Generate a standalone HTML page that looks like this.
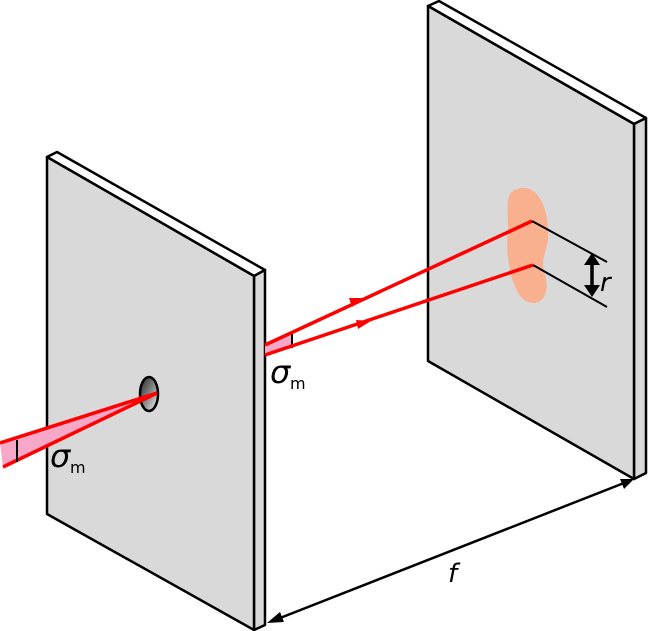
<!DOCTYPE html>
<html><head><meta charset="utf-8"><style>body{margin:0;background:#fff}svg{display:block}</style></head><body>
<svg width="648" height="631" viewBox="0 0 648 631" xmlns="http://www.w3.org/2000/svg">
<defs>
<linearGradient id="h" x1="0" y1="0" x2="1" y2="1"><stop offset="0" stop-color="#222"/><stop offset="0.6" stop-color="#999"/><stop offset="1" stop-color="#fff"/></linearGradient>
</defs>
<g stroke="#000" stroke-width="2.5" stroke-linejoin="round">
<polygon points="47,157 57,152 265,270 254,276" fill="#fff"/>
<polygon points="254,276 265,270 265,625 254,630" fill="#d8d8d8"/>
<polygon points="47,157 254,276 254,630 47,514" fill="#d9d9d9"/>
<polygon points="428,6 439,1 646,118 634,124" fill="#fff"/>
<polygon points="634,124 646,118 646,473 634,479" fill="#d8d8d8"/>
<polygon points="428,6 634,124 634,479 428,361" fill="#d9d9d9"/>
</g>
<ellipse cx="149" cy="394" rx="9" ry="17" fill="url(#h)" stroke="#000" stroke-width="2.5"/>
<path d="M515,190 C535,180 550,205 548,240 C546,255 540,258 545,275 C552,300 535,310 522,298 C510,285 505,250 508,230 C508,205 505,195 515,190Z" fill="#f9b08f"/>
<polygon points="0,443 157,393 3,467" fill="#f7a8c8"/>
<line x1="0" y1="443" x2="157" y2="393" stroke="#f00" stroke-width="3.5"/>
<line x1="3" y1="467" x2="157" y2="393" stroke="#f00" stroke-width="3.5"/>
<line x1="17" y1="440" x2="17" y2="462" stroke="#000" stroke-width="2"/>
<polygon points="265,345 292,333 292,348 265,355" fill="#f7a8c8"/>
<line x1="292" y1="333" x2="292" y2="348" stroke="#000" stroke-width="2"/>
<line x1="265" y1="345" x2="532" y2="221" stroke="#f00" stroke-width="3.5"/>
<line x1="265" y1="355" x2="533" y2="265" stroke="#f00" stroke-width="3.5"/>
<polygon points="364,298 349,298 352,307" fill="#f00"/>
<polygon points="371,321 356,320 358,329" fill="#f00"/>
<line x1="532" y1="221" x2="607" y2="262" stroke="#000" stroke-width="2"/>
<line x1="533" y1="265" x2="607" y2="307" stroke="#000" stroke-width="2"/>
<line x1="592" y1="262" x2="592" y2="288" stroke="#000" stroke-width="3.5"/>
<polygon points="592,253 584,265 600,265" fill="#000"/>
<polygon points="592,297 584,285 600,285" fill="#000"/>
<line x1="275" y1="620" x2="624" y2="483" stroke="#000" stroke-width="2.5"/>
<polygon points="267,623 280,612 284,622" fill="#000"/>
<polygon points="634,479 620,479 624,489" fill="#000"/>
<g font-family="DejaVu Sans, Liberation Sans, sans-serif" fill="#000">
<text x="50" y="467" font-size="32" font-style="italic">σ</text><text x="70" y="473" font-size="16">m</text>
<text x="270" y="383" font-size="32" font-style="italic">σ</text><text x="290" y="389" font-size="16">m</text>
<text x="600" y="291" font-size="26" font-style="italic">r</text>
<text x="448" y="582" font-size="26" font-style="italic">f</text>
</g>
</svg>
</body></html>
